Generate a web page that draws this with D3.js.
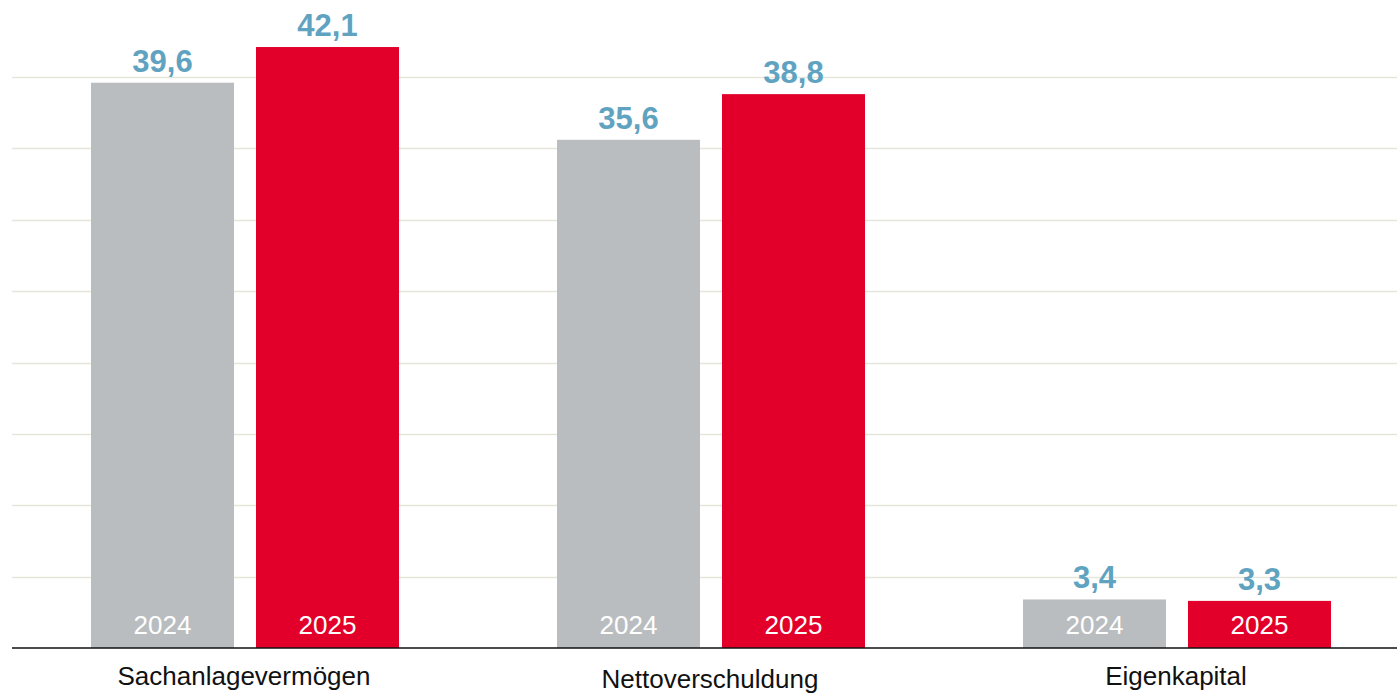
<!DOCTYPE html>
<html>
<head>
<meta charset="utf-8">
<script src="https://cdn.jsdelivr.net/npm/d3@7"></script>
<style>
body { margin:0; background:#fff; }
text { font-family: "Liberation Sans", Arial, sans-serif; }
</style>
</head>
<body>
<script>
var w = 1397, h = 694;

var categories = ["Sachanlagevermögen", "Nettoverschuldung", "Eigenkapital"];
var years = ["2024", "2025"];
var values2024 = [39.6, 35.6, 3.4];
var values2025 = [42.1, 38.8, 3.3];
var gridTicks = [5, 10, 15, 20, 25, 30, 35, 40];

var color = d3.scaleOrdinal().domain(years).range(["#babdbf", "#e2002a"]);

var svg = d3.select("body").append("svg")
	.attr("width", w)
	.attr("height", h)

var y = d3.scaleLinear().domain([0, 40]).range([648, 77]);
var x0 = d3.scaleBand().domain(categories).range([12, 1410]);
var x1 = d3.scaleBand().domain(years).range([79, 387]).paddingInner(22/165);

// gridlines
svg.selectAll("line.grid")
	.data(gridTicks)
	.enter()
	.append("line")
	.attr("class", "grid")
	.attr("x1", 12).attr("x2", w)
	.attr("y1", function(d){ return Math.round(y(d)) + 0.5; })
	.attr("y2", function(d){ return Math.round(y(d)) + 0.5; })
	.style("stroke", "#e6e5dc")
	.style("stroke-width", 1.3)

var data = [];
categories.forEach(function(c, i){
	data.push({cat: c, year: "2024", v: values2024[i]});
	data.push({cat: c, year: "2025", v: values2025[i]});
});

var bars = svg.selectAll("g.bar")
	.data(data)
	.enter()
	.append("g")
	.attr("class", "bar")
	.attr("transform", function(d){ return "translate(" + (x0(d.cat) + x1(d.year)) + ",0)"; })

bars.append("rect")
	.attr("x", 0)
	.attr("width", x1.bandwidth())
	.attr("y", function(d){ return y(d.v); })
	.attr("height", function(d){ return y(0) - y(d.v); })
	.style("fill", function(d){ return color(d.year); })

bars.append("text")
	.attr("x", x1.bandwidth()/2)
	.attr("y", function(d){ return y(d.v) - 11; })
	.attr("text-anchor", "middle")
	.style("font-size", "31px")
	.style("font-weight", "bold")
	.style("fill", "#5fa3c1")
	.text(function(d){ return d3.format(".1f")(d.v).replace(".", ","); })

bars.append("text")
	.attr("x", x1.bandwidth()/2)
	.attr("y", 634)
	.attr("text-anchor", "middle")
	.style("font-size", "26px")
	.style("fill", "#fff")
	.text(function(d){ return d.year; })

// baseline
svg.append("line")
	.attr("x1", 12).attr("x2", w)
	.attr("y1", 648).attr("y2", 648)
	.style("stroke", "#111")
	.style("stroke-width", 1.5)

svg.selectAll("text.cat")
	.data(categories)
	.enter()
	.append("text")
	.attr("class", "cat")
	.attr("x", function(d){ return x0(d) + (x1.range()[0] + x1.range()[1]) / 2 - 1; })
	.attr("y", function(d, i){ return i == 1 ? 688 : 685; })
	.attr("text-anchor", "middle")
	.style("font-size", "26px")
	.style("fill", "#111")
	.text(function(d){ return d; })
</script>
</body>
</html>
